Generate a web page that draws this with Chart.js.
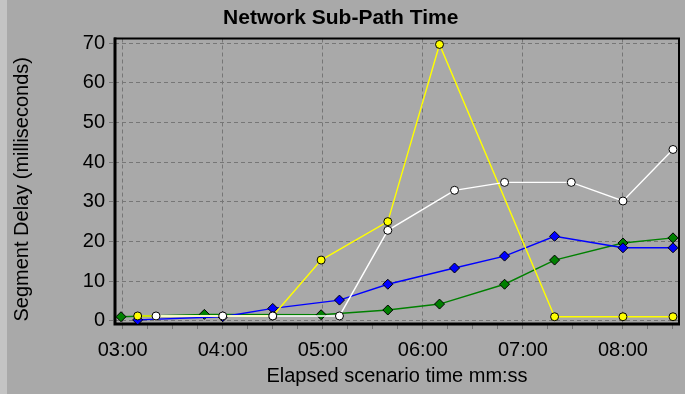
<!DOCTYPE html>
<html>
<head>
<meta charset="utf-8">
<script src="https://cdn.jsdelivr.net/npm/chart.js@4.4.0/dist/chart.umd.min.js"></script>
<style>
    html, body { margin: 0; padding: 0; background: #a9a9a9; }
    #wrap { width: 685px; height: 394px; }
</style>
</head>
<body>
<div id="wrap"><canvas id="myChart" width="685" height="394"></canvas></div>
<script>
// elapsed time (seconds) and segment delay (ms)
const whiteSecs = [200, 240, 270, 310, 339, 379, 409, 449, 480, 510]
const whiteDelay = [1.2, 1.2, 1.2, 1.2, 22.8, 32.9, 34.9, 34.9, 30.2, 43.2]
const yellowSecs = [189, 270, 299, 339, 370, 439, 480, 510]
const yellowDelay = [1.2, 1.2, 15.3, 25.0, 69.7, 1.0, 1.0, 1.0]
const blueSecs = [189, 240, 270, 310, 339, 379, 409, 439, 480, 510]
const blueDelay = [0.2, 1.0, 3.1, 5.2, 9.2, 13.3, 16.3, 21.3, 18.4, 18.4]
const greenSecs = [179, 229, 299, 339, 370, 409, 439, 480, 510]
const greenDelay = [1.0, 1.6, 1.5, 2.7, 4.2, 9.2, 15.3, 19.6, 20.9]

// axes
const xTickSecs = [180, 195, 210, 225, 240, 255, 270, 285, 300, 315, 330, 345, 360, 375, 390, 405, 420, 435, 450, 465, 480, 495, 510]
const xMajorSecs = [180, 240, 300, 360, 420, 480]
const xMajorLabels = ["03:00", "04:00", "05:00", "06:00", "07:00", "08:00"]
const yTicks = [0, 10, 20, 30, 40, 50, 60, 70]
const yTitle = "Segment Delay (milliseconds)"

const toPts = (secs, vals) => secs.map((s, i) => ({ x: s, y: vals[i] }))

const gridGray = "#767676"

const bgPlugin = {
    id: "bg",
    beforeDraw(chart) {
        const { ctx, width, height } = chart
        ctx.save()
        ctx.fillStyle = "#a9a9a9"
        ctx.fillRect(0, 0, width, height)
        ctx.fillStyle = "#c4c4c4"
        ctx.fillRect(0, 0, 7, height)
        ctx.restore()
    }
}

// thick black frame round the plot, heavier on left and bottom
// + y title, sits a bit lower than chart.js would centre it
const framePlugin = {
    id: "frame",
    beforeDatasetsDraw(chart) {
        const { ctx, chartArea: a } = chart
        ctx.save()
        ctx.strokeStyle = "#000"
        ctx.lineWidth = 2
        ctx.strokeRect(a.left, a.top, a.right - a.left, a.bottom - a.top)
        ctx.lineWidth = 3
        ctx.beginPath()
        ctx.moveTo(a.left, a.top - 1)
        ctx.lineTo(a.left, a.bottom)
        ctx.lineTo(a.right + 1, a.bottom)
        ctx.stroke()

        ctx.translate(22, (a.top + a.bottom) / 2 + 8)
        ctx.rotate(-Math.PI / 2)
        ctx.fillStyle = "#000"
        ctx.font = "20px 'Liberation Sans', Arial, sans-serif"
        ctx.textAlign = "center"
        ctx.textBaseline = "middle"
        ctx.fillText(yTitle, 0, 0)
        ctx.restore()
    }
}

function series(secs, vals, color, style, radius) {
    return {
        data: toPts(secs, vals),
        borderColor: color,
        backgroundColor: color,
        borderWidth: 1.4,
        pointStyle: style,
        pointRadius: radius,
        pointBorderColor: "#000",
        pointBorderWidth: 1,
        pointBackgroundColor: color,
        tension: 0,
    }
}

Chart.defaults.font.family = "'Liberation Sans', Arial, sans-serif"
Chart.defaults.color = "#000"

const chartEl = document.getElementById("myChart")
const chart = new Chart(chartEl, {
    type: "line",
    data: {
        datasets: [
            series(whiteSecs, whiteDelay, "#ffffff", "circle", 4),
            series(yellowSecs, yellowDelay, "#ffff00", "circle", 4),
            series(blueSecs, blueDelay, "#0000ff", "rectRot", 5),
            series(greenSecs, greenDelay, "#008000", "rectRot", 5),
        ]
    },
    options: {
        responsive: false,
        animation: false,
        layout: { padding: { left: 0, right: 3.5, top: 0, bottom: 0 } },
        scales: {
            x: {
                type: "linear",
                min: 175.4,
                max: 513.6,
                afterBuildTicks(s) { s.ticks = xTickSecs.map(v => ({ value: v })) },
                afterFit(s) { s.height = 70 },
                ticks: {
                    autoSkip: false,
                    maxRotation: 0,
                    padding: 9,
                    font: { size: 20 },
                    callback(val) {
                        const i = xMajorSecs.indexOf(val)
                        return i >= 0 ? xMajorLabels[i] : ""
                    }
                },
                grid: {
                    color: c => (c.tick && xMajorSecs.includes(c.tick.value)) ? gridGray : "transparent",
                    tickColor: gridGray,
                    tickLength: 5,
                    lineWidth: 1,
                },
                border: { display: false, dash: [4, 3] },
                title: {
                    display: true,
                    text: "Elapsed scenario time mm:ss",
                    font: { size: 20 },
                    padding: { top: 0, bottom: 6 }
                }
            },
            y: {
                min: -0.83,
                max: 71.2,
                afterBuildTicks(s) { s.ticks = yTicks.map(v => ({ value: v })) },
                afterFit(s) { s.width = 115 },
                ticks: {
                    padding: 4,
                    font: { size: 20 }
                },
                grid: {
                    color: gridGray,
                    tickColor: gridGray,
                    tickLength: 6,
                    tickBorderDash: [4, 3],
                },
                border: { display: false, dash: [4, 3] },
                title: { display: false }
            }
        },
        plugins: {
            legend: { display: false },
            tooltip: { enabled: false },
            title: {
                display: true,
                text: "Network Sub-Path Time",
                font: { size: 21, weight: "bold" },
                padding: { top: 5.5, bottom: 7.8 }
            }
        }
    },
    plugins: [bgPlugin, framePlugin]
})
</script>
</body>
</html>
